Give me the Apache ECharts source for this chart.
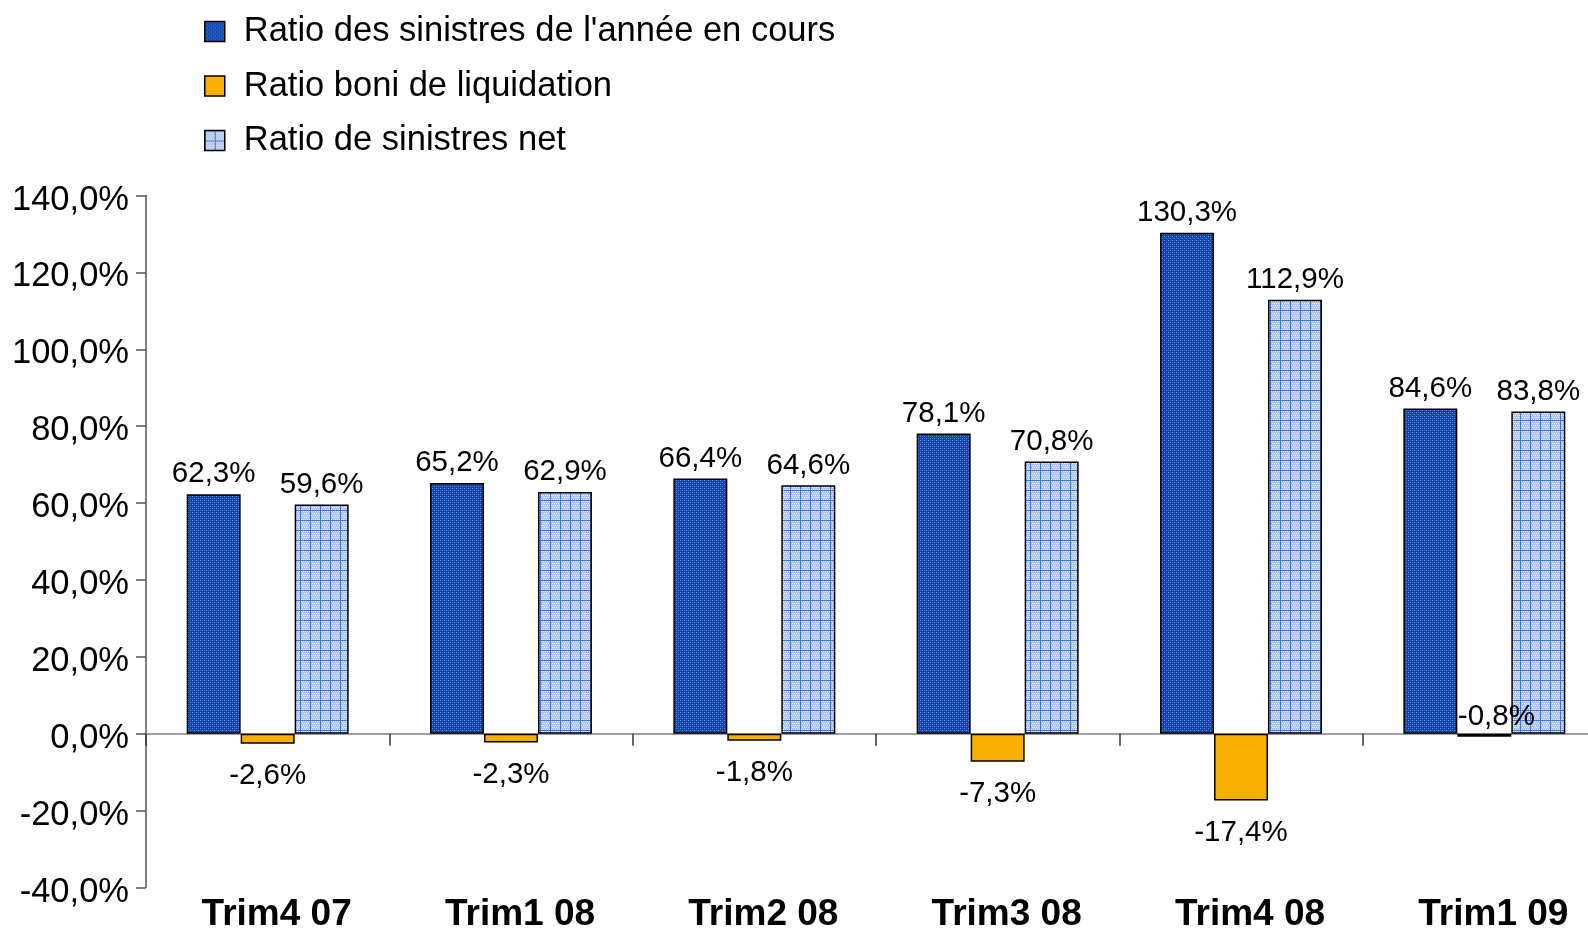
<!DOCTYPE html>
<html><head><meta charset="utf-8">
<script src="https://cdn.jsdelivr.net/npm/echarts@6/dist/echarts.min.js"></script>
<style>html,body{margin:0;padding:0;background:#fff}#c{width:1588px;height:928px}</style>
</head><body><div id="c"></div>
<script>
const categories = ['Trim4 07','Trim1 08','Trim2 08','Trim3 08','Trim4 08','Trim1 09'];
const seriesNames = ["Ratio des sinistres de l'année en cours","Ratio boni de liquidation","Ratio de sinistres net"];
const ratioAnnee = [62.3, 65.2, 66.4, 78.1, 130.3, 84.6];
const ratioBoni = [-2.6, -2.3, -1.8, -7.3, -17.4, -0.8];
const ratioNet = [59.6, 62.9, 64.6, 70.8, 112.9, 83.8];
const yTicks = {min: -40, max: 140, interval: 20};

function makePattern(size, draw){
  const c = document.createElement('canvas'); c.width = size; c.height = size;
  const g = c.getContext('2d'); draw(g); return c;
}
const darkPat = makePattern(4, g => {
  g.fillStyle = '#1044ac'; g.fillRect(0,0,4,4);
  g.fillStyle = '#6f94dc'; g.fillRect(0,0,1,1); g.fillRect(2,2,1,1);
  g.fillStyle = '#3060c4'; g.fillRect(2,0,1,1); g.fillRect(0,2,1,1);
});
const lightPat = makePattern(10, g => {
  g.fillStyle = '#adc4ed'; g.fillRect(0,0,10,10);
  g.fillStyle = '#e8effb';
  for (let y=1;y<10;y+=2) for (let x=(y%4===1?1:2);x<10;x+=2) g.fillRect(x,y,1,1);
  g.fillStyle = '#4272d0'; g.fillRect(0,0,10,1); g.fillRect(0,0,1,10);
});

const FONT = '"Liberation Sans", Arial, sans-serif';
const fmt = v => v.toFixed(1).replace('.', ',') + '%';

const chart = echarts.init(document.getElementById('c'), null, {renderer:'canvas'});
const labelBase = {show:true, fontFamily:FONT, fontSize:29.5, color:'#000', formatter: p => fmt(p.value)};
chart.setOption({
  animation:false,
  backgroundColor:'#fff',
  legend:{
    orient:'vertical', left:199, top:9, itemWidth:20, itemHeight:20, itemGap:19.5, icon:'rect',
    textStyle:{fontFamily:FONT, fontSize:34.5, color:'#000', lineHeight:32, padding:[0,0,0,14]},
    itemStyle:{borderColor:'#000', borderWidth:1.5},
    data: seriesNames
  },
  grid:{left:146, width:1460, top:195.5, height:692, containLabel:false, outerBoundsMode:'none'},
  xAxis:[
    {type:'category', data:categories, position:'bottom',
     axisLine:{show:false, onZero:false}, axisTick:{show:false},
     axisLabel:{fontFamily:FONT, fontSize:37, fontWeight:'bold', color:'#000', margin:9, interval:0, padding:[0,0,0,18]}},
    {type:'category', data:categories, position:'bottom',
     axisLine:{show:true, onZero:true, lineStyle:{color:'#7f7f7f', width:1.5}},
     axisTick:{show:true, length:12, lineStyle:{color:'#333', width:1.5}},
     axisLabel:{show:false}}
  ],
  yAxis:{type:'value', min:yTicks.min, max:yTicks.max, interval:yTicks.interval,
    axisLine:{show:true, lineStyle:{color:'#555', width:1.5}},
    axisTick:{show:true, length:10, lineStyle:{color:'#555', width:1.5}},
    splitLine:{show:false},
    axisLabel:{fontFamily:FONT, fontSize:34.5, color:'#000', margin:17, verticalAlign:'top', lineHeight:9, formatter: v => v.toFixed(1).replace('.', ',') + '%'}},
  series:[
    {name:seriesNames[0], type:'bar', data:ratioAnnee, barWidth:54, barGap:'0%',
     itemStyle:{color:{image:darkPat, repeat:'repeat'}, borderColor:'#000', borderWidth:1.5},
     label:Object.assign({position:'top', distance:5}, labelBase)},
    {name:seriesNames[1], type:'bar', barWidth:54, barGap:'0%',
     data: ratioBoni.map(v => ({value:v, label: v > -1 ? {position:'top', distance:2, offset:[12,0]} : {position:'bottom', distance:17}})),
     itemStyle:{color:'#f8b000', borderColor:'#000', borderWidth:1.5},
     label:labelBase},
    {name:seriesNames[2], type:'bar', data:ratioNet, barWidth:54, barGap:'0%',
     itemStyle:{color:{image:lightPat, repeat:'repeat'}, borderColor:'#000', borderWidth:1.5},
     label:Object.assign({position:'top', distance:5}, labelBase)}
  ]
});
</script></body></html>
